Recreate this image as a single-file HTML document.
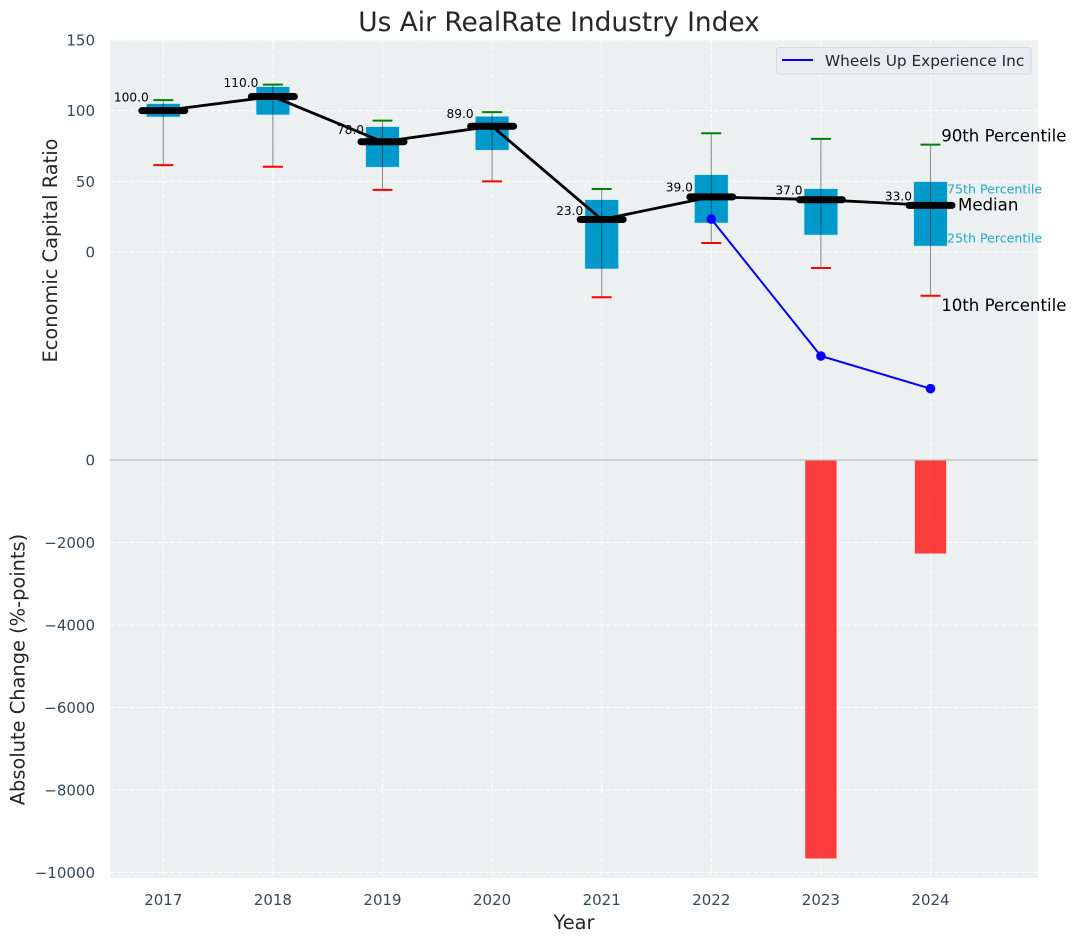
<!DOCTYPE html>
<html lang="en">
<head>
<meta charset="utf-8">
<title>Us Air RealRate Industry Index</title>
<style>
html,body{margin:0;padding:0;background:#fff;width:1076px;height:942px;overflow:hidden}
svg{display:block;font-family:"DejaVu Sans","Liberation Sans",sans-serif}
</style>
</head>
<body>
<svg id="chart" width="1076" height="942" viewBox="0 0 1076 942" xmlns="http://www.w3.org/2000/svg">
<rect x="110" y="40" width="928" height="838" fill="#ecf0f1"/>
<g id="grid"></g>
<g id="bars"></g>
<line x1="110" x2="1038" y1="460" y2="460" stroke="#bdbdbd" stroke-width="1.2"/>
<g id="boxes"></g>
<g id="blue"></g>
<g id="ticks"></g>
<g id="notes"></g>
<text x="559" y="31" text-anchor="middle" font-size="26.4" fill="#262626">Us Air RealRate Industry Index</text>
<text x="574" y="929" text-anchor="middle" font-size="19.4" fill="#262626">Year</text>
<text transform="translate(57 250.5) rotate(-90)" text-anchor="middle" font-size="19.4" fill="#262626">Economic Capital Ratio</text>
<text transform="translate(24.5 669.5) rotate(-90)" text-anchor="middle" font-size="19.4" fill="#262626">Absolute Change (%-points)</text>
<g>
<rect x="776.5" y="47.5" width="254.5" height="26.5" rx="3" fill="#e9ecf1" stroke="#d6d9dd" stroke-width="1"/>
<line x1="782" x2="813" y1="60" y2="60" stroke="#0000ff" stroke-width="2"/>
<text x="825" y="66" font-size="15.3" fill="#262626">Wheels Up Experience Inc</text>
</g>
</svg>
<script>
const years = [2017, 2018, 2019, 2020, 2021, 2022, 2023, 2024];
const p90 = [107.5, 118.4, 93, 99, 44.6, 84, 80, 76];
const q3 = [105, 117, 88.7, 96, 37, 54.7, 44.8, 49.8];
const medians = [100, 110, 78, 89, 23, 39, 37, 33];
const q1 = [95.5, 97, 60, 72, -12, 20.5, 12, 4.2];
const p10 = [61.5, 60.3, 44, 50, -32, 6.4, -11.3, -31];
const companyYears = [2022, 2023, 2024];
const companyValues = [23.3, -73.6, -96.7];
const changeYears = [2023, 2024];
const changeValues = [-9660, -2267];
const upperTicks = [0, 50, 100, 150];
const lowerTicks = [0, -2000, -4000, -6000, -8000, -10000];

const NS = 'http://www.w3.org/2000/svg';
const xScale = v => 163.3 + (v - 2017) * 109.6;
const yUpper = v => 252 - v * 1.4133;
const yLower = v => 460 - v * 0.04125;
const boxHalf = 0.15;
const barHalf = 0.143;
const tickSize = 15;

function mk(parentId, tag, attrs, text) {
  const el = document.createElementNS(NS, tag);
  for (const k in attrs) el.setAttribute(k, attrs[k]);
  if (text !== undefined) el.textContent = text;
  document.getElementById(parentId).appendChild(el);
  return el;
}
const fmtTick = v => (v < 0 ? '\u2212' + Math.abs(v) : String(v));
let el;

/* grid */
years.forEach(y => {
  el = mk('grid', 'line', {x1: xScale(y), x2: xScale(y), y1: 40, y2: 878, stroke: '#fff', 'stroke-width': 1, 'stroke-dasharray': '4.5 2.2'});
  
  
  el = mk('ticks', 'text', {x: xScale(y), y: 905, 'text-anchor': 'middle', 'font-size': tickSize, fill: '#34495e'}, y);
  
  
});
upperTicks.forEach(t => {
  el = mk('grid', 'line', {x1: 110, x2: 1038, y1: yUpper(t), y2: yUpper(t), stroke: '#fff', 'stroke-width': 1, 'stroke-dasharray': '4.5 2.2'});
  
  
  el = mk('ticks', 'text', {x: 95, y: yUpper(t) + 5.5, 'text-anchor': 'end', 'font-size': tickSize, fill: '#34495e'}, fmtTick(t));
  
  
});
lowerTicks.forEach(t => {
  el = mk('grid', 'line', {x1: 110, x2: 1038, y1: yLower(t), y2: yLower(t), stroke: '#fff', 'stroke-width': 1, 'stroke-dasharray': '4.5 2.2'});
  
  
  el = mk('ticks', 'text', {x: 95, y: yLower(t) + 5.5, 'text-anchor': 'end', 'font-size': tickSize, fill: '#34495e'}, fmtTick(t));
  
  
});

/* change bars */
changeYears.forEach((y, i) => {
  const top = yLower(0), bot = yLower(changeValues[i]);
  el = mk('bars', 'rect', {x: xScale(y) - barHalf * 109.6, y: top, width: barHalf * 2 * 109.6, height: bot - top, fill: '#ff0000', 'fill-opacity': 0.75});
  
  
});

/* value labels sit beneath the boxes and lines */
years.forEach((y, i) => {
  el = mk('boxes', 'text', {x: xScale(y) - 32, y: yUpper(medians[i]) - (3 + 0.06 * medians[i]), 'text-anchor': 'middle', 'font-size': 12.2, fill: '#000'}, medians[i].toFixed(1));
  
  
});

/* boxes, whiskers, caps */
years.forEach((y, i) => {
  const cx = xScale(y), hw = boxHalf * 109.6 + 0.4;
  el = mk('boxes', 'rect', {x: cx - hw, y: yUpper(q3[i]), width: hw * 2, height: yUpper(q1[i]) - yUpper(q3[i]), fill: '#0099cc', stroke: '#c5e6f1', 'stroke-width': 0.6});
  
  
  el = mk('boxes', 'line', {x1: cx, x2: cx, y1: yUpper(p90[i]), y2: yUpper(p10[i]), stroke: '#000', 'stroke-opacity': 0.42, 'stroke-width': 1.1});
  
  
  el = mk('boxes', 'line', {x1: cx - 10, x2: cx + 10, y1: yUpper(p90[i]), y2: yUpper(p90[i]), stroke: '#008000', 'stroke-width': 2});
  
  
  el = mk('boxes', 'line', {x1: cx - 10, x2: cx + 10, y1: yUpper(p10[i]), y2: yUpper(p10[i]), stroke: '#ff0000', 'stroke-width': 2});
  
  
});

/* median connector and thick median bars */
el = mk('boxes', 'polyline', {points: years.map((y, i) => xScale(y) + ',' + yUpper(medians[i])).join(' '), fill: 'none', stroke: '#000', 'stroke-width': 2.8, 'stroke-linejoin': 'round'});


years.forEach((y, i) => {
  const cx = xScale(y), my = yUpper(medians[i]);
  el = mk('boxes', 'line', {x1: cx - 21.5, x2: cx + 21.5, y1: my, y2: my, stroke: '#000', 'stroke-width': 7, 'stroke-linecap': 'round'});
  
  
});

/* company series */
el = mk('blue', 'polyline', {points: companyYears.map((y, i) => xScale(y) + ',' + yUpper(companyValues[i])).join(' '), fill: 'none', stroke: '#0000ff', 'stroke-width': 2});


companyYears.forEach((y, i) => {
  el = mk('blue', 'circle', {cx: xScale(y), cy: yUpper(companyValues[i]), r: 4.8, fill: '#0000ff'});
  
  
});

/* annotations next to the final box */
const last = years.length - 1;
const lx = xScale(years[last]);
el = mk('notes', 'text', {x: lx + 10.7, y: yUpper(p90[last]) - 3, 'font-size': 16.6, fill: '#000'}, '90th Percentile');


el = mk('notes', 'text', {x: lx + 16.5, y: yUpper(q3[last]) + 11.7, 'font-size': 12.6, fill: '#1ea6d4'}, '75th Percentile');


el = mk('notes', 'text', {x: lx + 27.5, y: yUpper(medians[last]) + 5.3, 'font-size': 16.6, fill: '#000'}, 'Median');


el = mk('notes', 'text', {x: lx + 16.5, y: yUpper(q1[last]) - 3.5, 'font-size': 12.6, fill: '#1ea6d4'}, '25th Percentile');


el = mk('notes', 'text', {x: lx + 10.7, y: yUpper(p10[last]) + 15, 'font-size': 16.6, fill: '#000'}, '10th Percentile');


</script>
</body>
</html>
